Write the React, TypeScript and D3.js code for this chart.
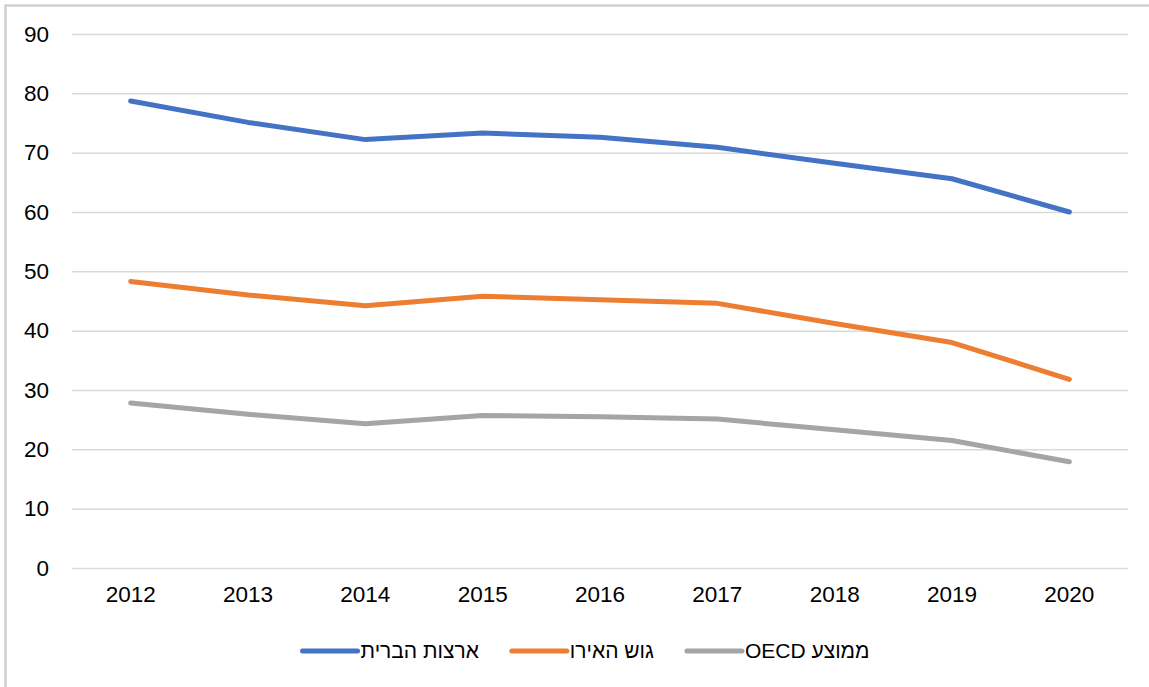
import React, { useEffect, useRef } from "react";
import * as d3 from "d3";

// data
const years = ["2012", "2013", "2014", "2015", "2016", "2017", "2018", "2019", "2020"];
const usa = [78.7, 75.1, 72.2, 73.3, 72.6, 70.9, 68.2, 65.6, 60.0];
const euro = [48.3, 46.0, 44.2, 45.8, 45.2, 44.6, 41.2, 38.0, 31.8];
const oecd = [27.8, 25.9, 24.3, 25.7, 25.5, 25.1, 23.3, 21.5, 17.9];
const seriesNames = ["ארצות הברית", "גוש האירו", "ממוצע OECD"];
const seriesColors = ["#4472C4", "#ED7D31", "#A5A5A5"];
const yTicks = [0, 10, 20, 30, 40, 50, 60, 70, 80, 90];

const LineChart = () => {
  const svgRef = useRef<SVGSVGElement>(null);

  useEffect(() => {
    const width = 1149,
      height = 687,
      margin = { top: 34, right: 21, bottom: 119, left: 72 };
    const font = "Liberation Sans, Arial, sans-serif";

    const root = d3.select(svgRef.current);
    root.selectAll("*").remove();
    root.attr("width", width).attr("height", height);

    // chart border - only top and left edges show, the rest is cropped off
    root
      .append("path")
      .attr("d", `M5.5,${height}V5.5H${width}`)
      .attr("fill", "none")
      .attr("stroke", "#d0d0d0")
      .attr("stroke-width", 2.5);

    const svg = root.append("g").attr("transform", `translate(${margin.left}, ${margin.top})`);
    const innerW = width - margin.left - margin.right;
    const innerH = height - margin.top - margin.bottom;

    const xScale = d3.scaleBand().domain(years).range([0, innerW]);
    const yScale = d3.scaleLinear().domain([0, 90]).range([innerH, 0]);

    // gridlines + y labels
    svg
      .append("g")
      .call(d3.axisLeft(yScale).tickValues(yTicks).tickSize(-innerW).tickPadding(23).tickFormat((d) => `${d}`))
      .call((g) => g.select(".domain").remove())
      .call((g) => g.selectAll(".tick line").attr("stroke", "#d9d9d9").attr("stroke-width", 1.5))
      .call((g) => g.selectAll(".tick text").attr("fill", "#000").attr("font-size", 22.5).attr("font-family", font));

    // x labels
    svg
      .append("g")
      .attr("transform", `translate(0, ${innerH})`)
      .call(d3.axisBottom(xScale).tickSize(0).tickPadding(18))
      .call((g) => g.select(".domain").remove())
      .call((g) => g.selectAll(".tick text").attr("fill", "#000").attr("font-size", 22.5).attr("font-family", font));

    const line = d3
      .line<number>()
      .x((d, i) => (xScale(years[i]) as number) + xScale.bandwidth() / 2)
      .y((d) => yScale(d));

    [usa, euro, oecd].forEach((vals, k) => {
      svg
        .append("path")
        .datum(vals)
        .attr("fill", "none")
        .attr("stroke", seriesColors[k])
        .attr("stroke-width", 5)
        .attr("stroke-linecap", "round")
        .attr("stroke-linejoin", "round")
        .attr("d", line);
    });

    // legend (Hebrew, rtl text to the right of each swatch)
    const legend = root.append("g").attr("transform", `translate(0, 651)`);
    const items = seriesNames.map((name, k) => {
      const g = legend.append("g");
      g.append("line")
        .attr("x1", 0)
        .attr("x2", 55)
        .attr("stroke", seriesColors[k])
        .attr("stroke-width", 5)
        .attr("stroke-linecap", "round");
      const t = g
        .append("text")
        .attr("x", 58)
        .attr("dy", "0.35em")
        .attr("direction", "rtl")
        .attr("unicode-bidi", "embed")
        .attr("text-anchor", "end")
        .attr("font-size", 21)
        .attr("font-family", font)
        .attr("fill", "#000")
        .text(name);
      const w = 58 + (t.node() as SVGTextElement).getComputedTextLength();
      return { g, w };
    });
    const gap = 33;
    const total = d3.sum(items, (d) => d.w) + gap * (items.length - 1);
    let x = 586 - total / 2;
    items.forEach((it) => {
      it.g.attr("transform", `translate(${x}, 0)`);
      x += it.w + gap;
    });
  }, []);

  return <svg ref={svgRef} style={{ position: "absolute", left: 0, top: 0, display: "block" }}></svg>;
};

export default function App() {
  return <LineChart />;
}
